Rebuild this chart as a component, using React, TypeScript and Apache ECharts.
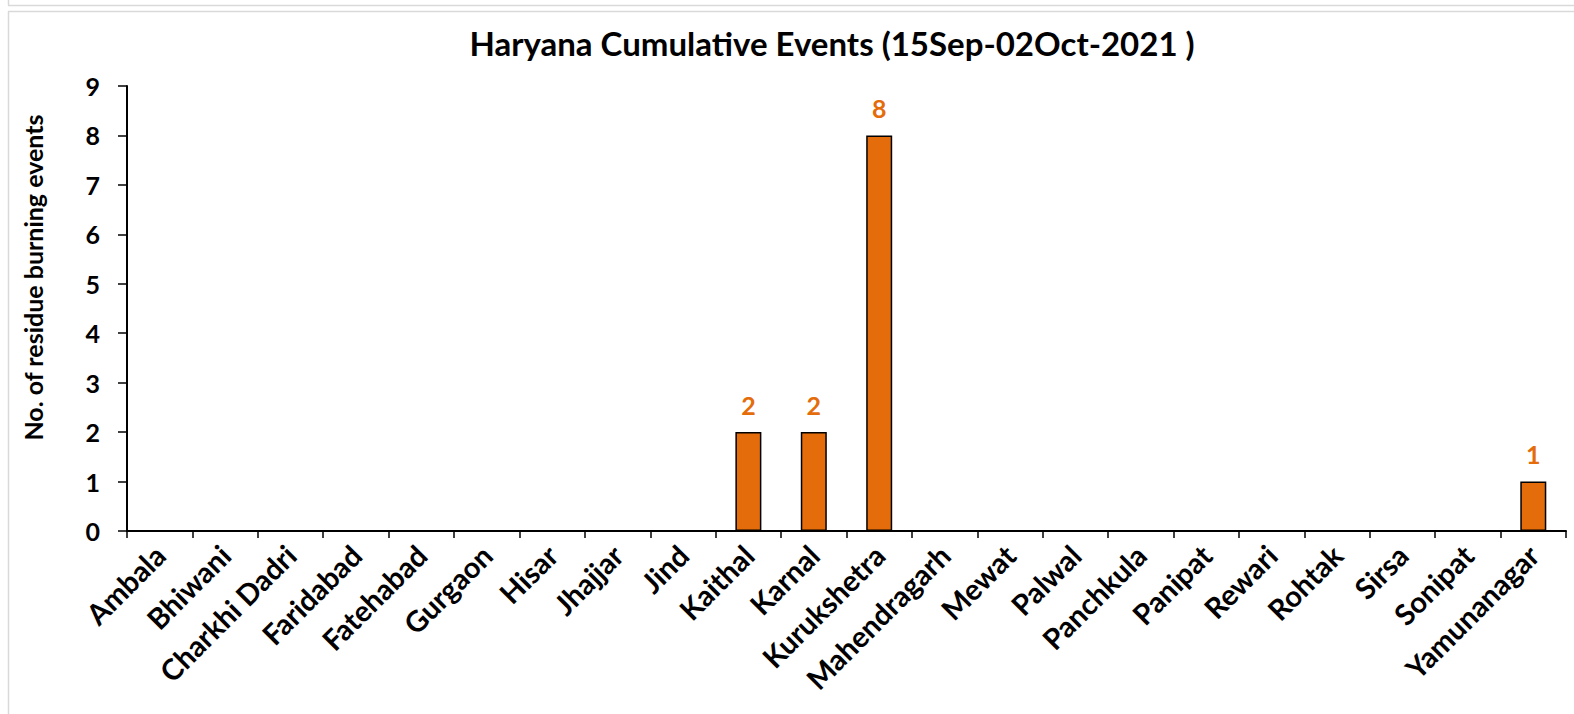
import React, { useEffect, useRef } from "react";
import * as echarts from "echarts";

const TITLE = "Haryana Cumulative Events (15Sep-02Oct-2021 )";
const Y_NAME = "No. of residue burning events";
const districts = [
  "Ambala", "Bhiwani", "Charkhi Dadri", "Faridabad", "Fatehabad", "Gurgaon", "Hisar",
  "Jhajjar", "Jind", "Kaithal", "Karnal", "Kurukshetra", "Mahendragarh", "Mewat",
  "Palwal", "Panchkula", "Panipat", "Rewari", "Rohtak", "Sirsa", "Sonipat", "Yamunanagar",
];
const events = [0, 0, 0, 0, 0, 0, 0, 0, 0, 2, 2, 8, 0, 0, 0, 0, 0, 0, 0, 0, 0, 1];
const yTicks = [0, 1, 2, 3, 4, 5, 6, 7, 8, 9];

const FONT = "Lato";
const ORANGE = "#E46C0A";

export default function App() {
  const ref = useRef<HTMLDivElement>(null);
  useEffect(() => {
    if (!ref.current) return;
    const chart = echarts.init(ref.current, null, { renderer: "svg" });
    chart.setOption({
      animation: false,
      backgroundColor: "#ffffff",
      title: {
        text: TITLE,
        left: 827,
        textAlign: "center",
        top: 21,
        textStyle: { fontFamily: FONT, fontWeight: "bold", fontSize: 33, color: "#000" },
      },
      graphic: [
        { type: "line", shape: { x1: 8, y1: 5.5, x2: 1574, y2: 5.5 }, style: { stroke: "#d9d9d9", lineWidth: 1.5 } },
        { type: "line", shape: { x1: 8.5, y1: 0, x2: 8.5, y2: 5.5 }, style: { stroke: "#d9d9d9", lineWidth: 1.5 } },
        { type: "line", shape: { x1: 8, y1: 11.5, x2: 1574, y2: 11.5 }, style: { stroke: "#d9d9d9", lineWidth: 1.5 } },
        { type: "line", shape: { x1: 8.5, y1: 11.5, x2: 8.5, y2: 714 }, style: { stroke: "#d9d9d9", lineWidth: 1.5 } },
      ],
      grid: { left: 127, right: 8, top: 86, bottom: 183, containLabel: false },
      xAxis: {
        type: "category",
        data: districts,
        axisLine: { lineStyle: { color: "#000", width: 2 } },
        axisTick: { show: true, length: 7, lineStyle: { color: "#000", width: 1.5 } },
        axisLabel: {
          rotate: 45,
          interval: 0,
          margin: 19,
          fontFamily: FONT,
          fontWeight: "bold",
          fontSize: 29,
          color: "#000",
        },
      },
      yAxis: {
        type: "value",
        min: yTicks[0],
        max: yTicks[yTicks.length - 1],
        interval: 1,
        name: Y_NAME,
        nameLocation: "middle",
        nameGap: 82,
        nameTextStyle: {
          fontFamily: FONT,
          fontWeight: "bold",
          fontSize: 25,
          color: "#000",
          padding: [0, 0, 0, 62],
        },
        axisLine: { show: true, lineStyle: { color: "#000", width: 2 } },
        axisTick: { show: true, length: 9, lineStyle: { color: "#000", width: 1.5 } },
        splitLine: { show: false },
        axisLabel: {
          margin: 27,
          fontFamily: FONT,
          fontWeight: "bold",
          fontSize: 25,
          color: "#000",
        },
      },
      series: [
        {
          type: "bar",
          data: events,
          barWidth: 26,
          itemStyle: { color: ORANGE, borderColor: "#000", borderWidth: 1.5 },
          label: {
            show: true,
            position: "top",
            distance: 15,
            fontFamily: FONT,
            fontWeight: "bold",
            fontSize: 25,
            color: ORANGE,
            formatter: (p: any) => (p.value > 0 ? String(p.value) : ""),
          },
        },
      ],
    });
    return () => chart.dispose();
  }, []);
  return (
    <div
      ref={ref}
      style={{ position: "fixed", left: 0, top: 0, width: 1574, height: 714 }}
    />
  );
}
